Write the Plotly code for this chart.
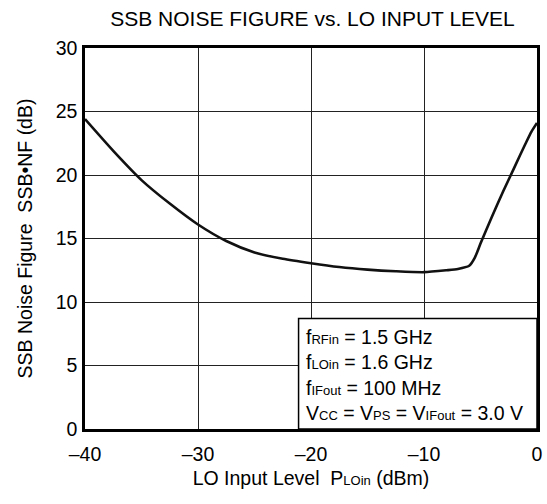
import plotly.graph_objects as go

# Data
lo_level_dbm = [-40, -37.5, -35, -32.5, -30, -27.5, -25, -22.5, -20, -17.5, -15,
                -12.5, -10, -8, -7, -6, -5.5, -5, -4, -3, -2, -1, -0.5, 0]
ssb_nf_db = [24.4, 21.9, 19.6, 17.75, 16.1, 14.8, 13.9, 13.4, 13.05, 12.75, 12.55,
             12.42, 12.35, 12.5, 12.6, 12.85, 13.5, 14.6, 16.7, 18.7, 20.6, 22.5, 23.4, 24.1]

x_ticks = [-40, -30, -20, -10, 0]
x_tick_labels = ["–40", "–30", "–20", "–10", "0"]
y_ticks = [0, 5, 10, 15, 20, 25, 30]
y_tick_labels = ["0", "5", "10", "15", "20", "25", "30"]

FONT = "Arial, Liberation Sans, Helvetica, sans-serif"
fs = 19.5
sub_fs = 13

fig = go.Figure()
fig.add_trace(go.Scatter(
    x=lo_level_dbm, y=ssb_nf_db, mode="lines",
    line=dict(color="#111111", width=2.6, shape="spline", smoothing=0.6),
    showlegend=False, hoverinfo="skip",
))

sm = f'style="font-size:{sub_fs}px"'
cond_text = (
    f"f<span {sm}>RFin</span> = 1.5 GHz<br>"
    f"f<span {sm}>LOin</span> = 1.6 GHz<br>"
    f"f<span {sm}>IFout</span> = 100 MHz<br>"
    f"V<span {sm}>CC</span> = V<span {sm}>PS</span> = V<span {sm}>IFout</span> = 3.0 V"
)

fig.add_shape(type="rect", xref="x", yref="y", x0=-21.1, x1=0, y0=0, y1=8.7,
              line=dict(color="black", width=1.5), fillcolor="white", layer="above")
fig.add_annotation(x=-20.65, y=4.25, xref="x", yref="y", text=cond_text,
                   showarrow=False, xanchor="left", yanchor="middle", align="left",
                   font=dict(family=FONT, size=19.5, color="black"))

fig.update_layout(
    width=547, height=504,
    margin=dict(l=85, r=10, t=48, b=75, autoexpand=False),
    paper_bgcolor="white", plot_bgcolor="white",
    font=dict(family=FONT, size=fs, color="black"),
    title=dict(text="SSB NOISE FIGURE vs. LO INPUT LEVEL", x=312.5 / 547, xanchor="center",
               y=1 - 18.5 / 504, yanchor="middle", font=dict(family=FONT, size=21)),
)
fig.update_xaxes(
    range=[-40, 0], tickvals=x_ticks, ticktext=x_tick_labels,
    showgrid=True, gridcolor="#222222", gridwidth=1,
    showline=True, linecolor="black", linewidth=2.5, mirror=True,
    ticks="", ticklabelstandoff=6, zeroline=False, automargin=False,
    title=dict(text=f'LO Input Level  P<span style="font-size:{sub_fs}px">LOin</span> (dBm)',
               font=dict(family=FONT, size=fs), standoff=8),
)
fig.update_yaxes(
    range=[0, 30], tickvals=y_ticks, ticktext=y_tick_labels,
    showgrid=True, gridcolor="#222222", gridwidth=1,
    showline=True, linecolor="black", linewidth=2.5, mirror=True,
    ticks="", ticklabelstandoff=1, zeroline=False, automargin=False,
    title=dict(text="SSB Noise Figure  SSB•NF (dB)", font=dict(family=FONT, size=fs), standoff=18),
)

fig.write_html("out.html", config={"displayModeBar": False},
               post_script="document.body.style.margin='0';document.body.style.padding='0';")
